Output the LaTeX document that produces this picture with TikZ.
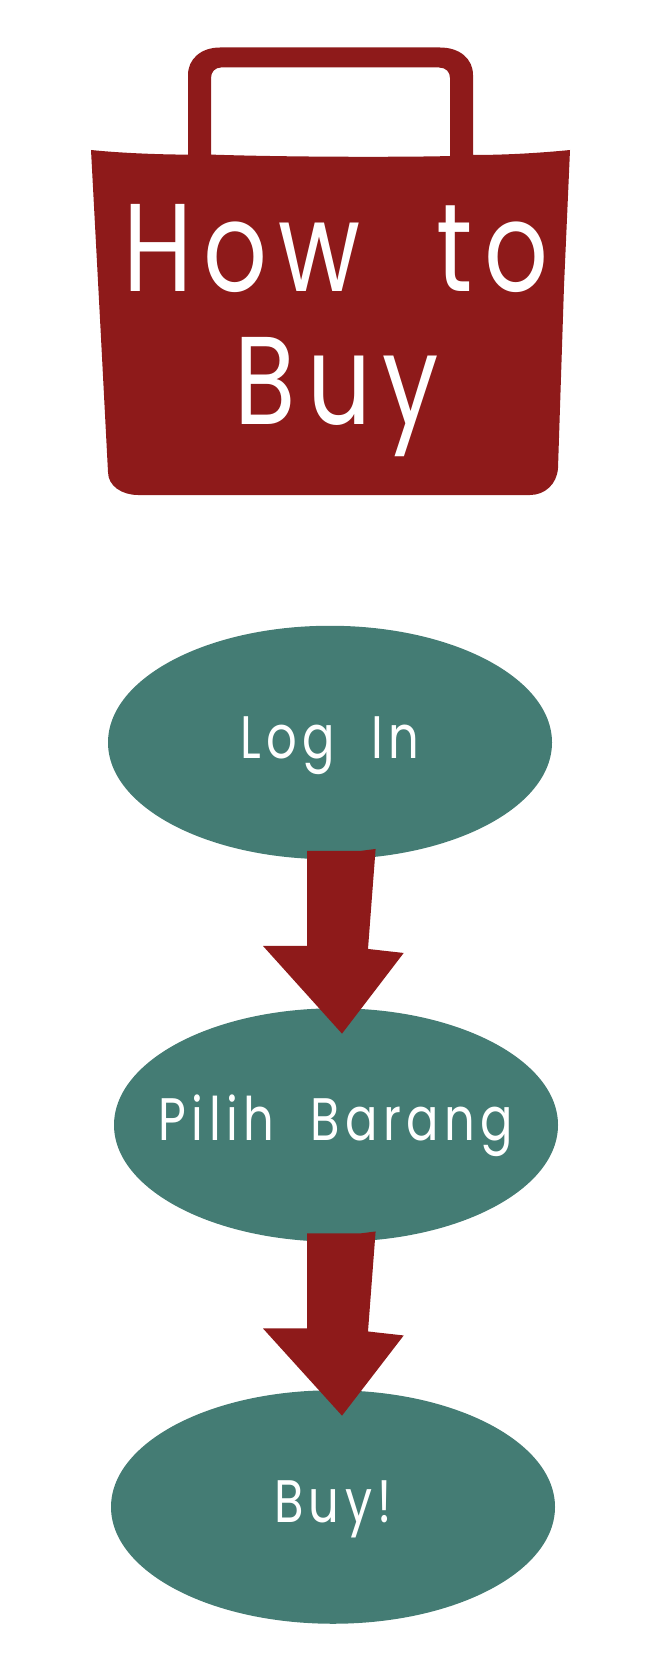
\documentclass[tikz,border=0pt]{standalone}
\usepackage{fontspec}
\setmainfont{Poppins}[FakeStretch=0.8,LetterSpace=9,WordSpace=2]
\usetikzlibrary{shapes.geometric,calc}

\definecolor{bagred}{HTML}{8E1A1A}
\definecolor{stepteal}{HTML}{447C74}

\tikzset{
    stepoval/.style={
        ellipse,
        fill=stepteal,
        text=white,
        minimum width=444pt,
        minimum height=233.5pt,
        inner xsep=-40pt,
        inner ysep=0pt,
        text height=45pt,
        text depth=14pt,
        font=\fontsize{60}{60}\selectfont
    },
    bagtitle/.style={
        text=white,
        inner sep=0pt,
        anchor=base,
        font=\fontsize{125}{125}\selectfont
    },
    blockarrow/.style={
        fill=bagred
    }
}

\newcommand{\blockarrow}[4]{
    \fill[blockarrow]
        ($(#1.south)+(#3-23,-8.5)$) --
        ($(#1.south)+(#3+30,-8.5)$) --
        ($(#1.south)+(#3+45.6,-10.5)$) --
        ($(#1.south)+(#3+38,89.5)$) --
        ($(#1.south)+(#3+73.7,93.5)$) --
        ($(#2.north)+(#4,25.6)$) --
        ($(#1.south)+(#3-67,86.5)$) --
        ($(#1.south)+(#3-23,86.5)$) -- cycle;
}

\begin{document}
\begin{tikzpicture}[x=1pt,y=-1pt]
    \useasboundingbox (0,0) rectangle (658,1672);

    \fill[bagred, even odd rule]
        (91,150) .. controls (120,153) and (160,154.6) .. (188,154.6)
        -- (188,75) .. controls (188,59) and (201,47.5) .. (220,47.5)
        -- (440,47.5) .. controls (460,47.5) and (473,59) .. (473,75)
        -- (473,155) .. controls (505,155) and (540,153) .. (570,150)
        -- (564,286) -- (558,468)
        .. controls (557,484) and (545,495) .. (530,495)
        -- (138,495) .. controls (122,495) and (108,486) .. (108,472)
        -- (100.7,332) -- cycle
        (211,78) .. controls (211,72) and (215,67.5) .. (221,67.5)
        -- (439,67.5) .. controls (446,67.5) and (450,72) .. (450,78)
        -- (450,156) .. controls (420,157) and (300,157.5) .. (211,154.6)
        -- cycle;

    \node[bagtitle] (howto) at (336,291) {How to};
    \node[bagtitle] (buytitle) at (337,424) {Buy};

    \node[stepoval] (login) at (330,742.5) {Log In};
    \node[stepoval] (pilih) at (336,1125) {Pilih Barang};
    \node[stepoval] (buy) at (333,1507) {Buy!};

    \blockarrow{login}{pilih}{0}{6}
    \blockarrow{pilih}{buy}{-6}{9}
\end{tikzpicture}
\end{document}
